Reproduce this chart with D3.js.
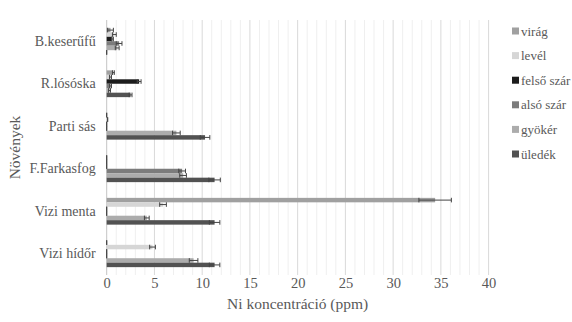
<!DOCTYPE html>
<html>
<head>
<meta charset="utf-8">
<script src="https://cdn.jsdelivr.net/npm/d3@7"></script>
<style>
  html, body { margin: 0; padding: 0; background: #ffffff; }
  svg { display: block; }
</style>
</head>
<body>
<svg id="chart" width="572" height="322"></svg>
<script>
// Plants (categories) and plant parts / sediment (series)
const categories = ["B.keserűfű", "R.lósóska", "Parti sás", "F.Farkasfog", "Vizi menta", "Vizi hídőr"];
const seriesNames = ["virág", "levél", "felső szár", "alsó szár", "gyökér", "üledék"];

// Ni concentration (ppm), one array per series, in category order
const viragValues   = [0.4, 0.7, 0,   0,   34.4, 0];
const levelValues   = [0.8, 0.4, 0.1, 0,   5.9,  4.8];
const felsoValues   = [0.6, 3.4, 0,   0,   0,    0];
const alsoValues    = [1.3, 0.4, 0,   7.9, 0,    0];
const gyokerValues  = [1.1, 0.3, 7.3, 8.0, 4.2,  9.1];
const uledekValues  = [0,   2.5, 10.3, 11.3, 11.3, 11.3];

// Standard deviations (error bars), same layout
const viragErr   = [0.3, 0.1, 0,    0,    1.7,  0];
const levelErr   = [0.2, 0.1, 0,    0,    0.35, 0.3];
const felsoErr   = [0.1, 0.2, 0,    0,    0,    0];
const alsoErr    = [0.3, 0.1, 0,    0.35, 0,    0];
const gyokerErr  = [0.2, 0.1, 0.4,  0.35, 0.25, 0.45];
const uledekErr  = [0,   0.15, 0.5, 0.6,  0.55, 0.55];

const xTicks = [0, 5, 10, 15, 20, 25, 30, 35, 40];

const seriesValues = [viragValues, levelValues, felsoValues, alsoValues, gyokerValues, uledekValues];
const seriesErrors = [viragErr, levelErr, felsoErr, alsoErr, gyokerErr, uledekErr];
const seriesColors = ["#a0a0a0", "#d6d6d6", "#1c1c1c", "#7c7c7c", "#acacac", "#525252"];

const FONT = "'Liberation Serif', 'Times New Roman', serif";
const TEXT_COLOR = "#595959";

const svg = d3.select("#chart");
const plot = { left: 106.7, right: 488.6, top: 20, bottom: 275 };

const x = d3.scaleLinear().domain([0, 40]).range([plot.left, plot.right]);
const y0 = d3.scaleBand().domain(categories).range([plot.top, plot.bottom])
  .paddingInner(0.37).paddingOuter(0.185);
const y1 = d3.scaleBand().domain(seriesNames).range([0, y0.bandwidth()]);

// Gridlines: light every unit, stronger every 5
const gridVals = d3.range(0, 41, 1);
svg.append("g").selectAll("line").data(gridVals.filter(v => v % 5 !== 0)).join("line")
  .attr("x1", d => x(d)).attr("x2", d => x(d))
  .attr("y1", plot.top).attr("y2", plot.bottom)
  .attr("stroke", "#efefef").attr("stroke-width", 1);
svg.append("g").selectAll("line").data(gridVals.filter(v => v % 5 === 0 && v !== 0)).join("line")
  .attr("x1", d => x(d)).attr("x2", d => x(d))
  .attr("y1", plot.top).attr("y2", plot.bottom)
  .attr("stroke", "#d9d9d9").attr("stroke-width", 1);
svg.append("line")
  .attr("x1", x(0)).attr("x2", x(0)).attr("y1", plot.top).attr("y2", plot.bottom)
  .attr("stroke", "#c4c4c4").attr("stroke-width", 1);

// Flattened records for bars
const records = [];
categories.forEach((c, ci) => {
  seriesNames.forEach((s, si) => {
    records.push({ cat: c, series: s, si, value: seriesValues[si][ci], err: seriesErrors[si][ci] });
  });
});

const groups = svg.append("g").selectAll("g").data(categories).join("g")
  .attr("transform", d => `translate(0,${y0(d)})`);

groups.selectAll("rect")
  .data(c => records.filter(r => r.cat === c))
  .join("rect")
  .attr("x", x(0))
  .attr("y", d => y1(d.series))
  .attr("width", d => x(d.value) - x(0))
  .attr("height", y1.bandwidth())
  .attr("fill", d => seriesColors[d.si]);

// Error bars
const eb = groups.selectAll("g.err")
  .data(c => records.filter(r => r.cat === c))
  .join("g").attr("class", "err")
  .attr("transform", d => `translate(0,${y1(d.series) + y1.bandwidth() / 2})`);
const capH = 2.3;
eb.append("line")
  .attr("x1", d => x(Math.max(0, d.value - d.err))).attr("x2", d => x(d.value + d.err))
  .attr("y1", 0).attr("y2", 0)
  .attr("stroke", "#444").attr("stroke-width", 1);
eb.append("line")
  .attr("x1", d => x(Math.max(0, d.value - d.err))).attr("x2", d => x(Math.max(0, d.value - d.err)))
  .attr("y1", -capH).attr("y2", capH)
  .attr("stroke", "#444").attr("stroke-width", 1);
eb.append("line")
  .attr("x1", d => x(d.value + d.err)).attr("x2", d => x(d.value + d.err))
  .attr("y1", -capH).attr("y2", capH)
  .attr("stroke", "#444").attr("stroke-width", 1);

// Axes
const xAxis = svg.append("g")
  .attr("transform", `translate(0,${plot.bottom})`)
  .call(d3.axisBottom(x).tickValues(xTicks).tickSize(0).tickPadding(3).tickFormat(d3.format("d")))
  .attr("font-family", FONT).attr("font-size", 14.5);
xAxis.select(".domain").remove();
xAxis.selectAll("text").attr("fill", TEXT_COLOR);

const yAxis = svg.append("g")
  .attr("transform", `translate(${plot.left},0)`)
  .call(d3.axisLeft(y0).tickSize(0).tickPadding(11))
  .attr("font-family", FONT).attr("font-size", 14);
yAxis.select(".domain").remove();
yAxis.selectAll("text").attr("fill", TEXT_COLOR);

// Axis titles
svg.append("text")
  .attr("x", (plot.left + plot.right) / 2).attr("y", 309)
  .attr("text-anchor", "middle")
  .attr("font-family", FONT).attr("font-size", 15.5).attr("fill", TEXT_COLOR)
  .text("Ni koncentráció (ppm)");
svg.append("text")
  .attr("transform", `translate(20,${(plot.top + plot.bottom) / 2}) rotate(-90)`)
  .attr("text-anchor", "middle")
  .attr("font-family", FONT).attr("font-size", 15.5).attr("fill", TEXT_COLOR)
  .text("Növények");

// Legend
const legend = svg.append("g").selectAll("g").data(seriesNames).join("g")
  .attr("transform", (d, i) => `translate(512,${31 + i * 24.6})`);
legend.append("rect")
  .attr("x", 0).attr("y", -3.5).attr("width", 7).attr("height", 7)
  .attr("fill", (d, i) => seriesColors[i]);
legend.append("text")
  .attr("x", 9).attr("y", 0).attr("dy", "0.35em")
  .attr("font-family", FONT).attr("font-size", 13).attr("fill", TEXT_COLOR)
  .text(d => d);
</script>
</body>
</html>
